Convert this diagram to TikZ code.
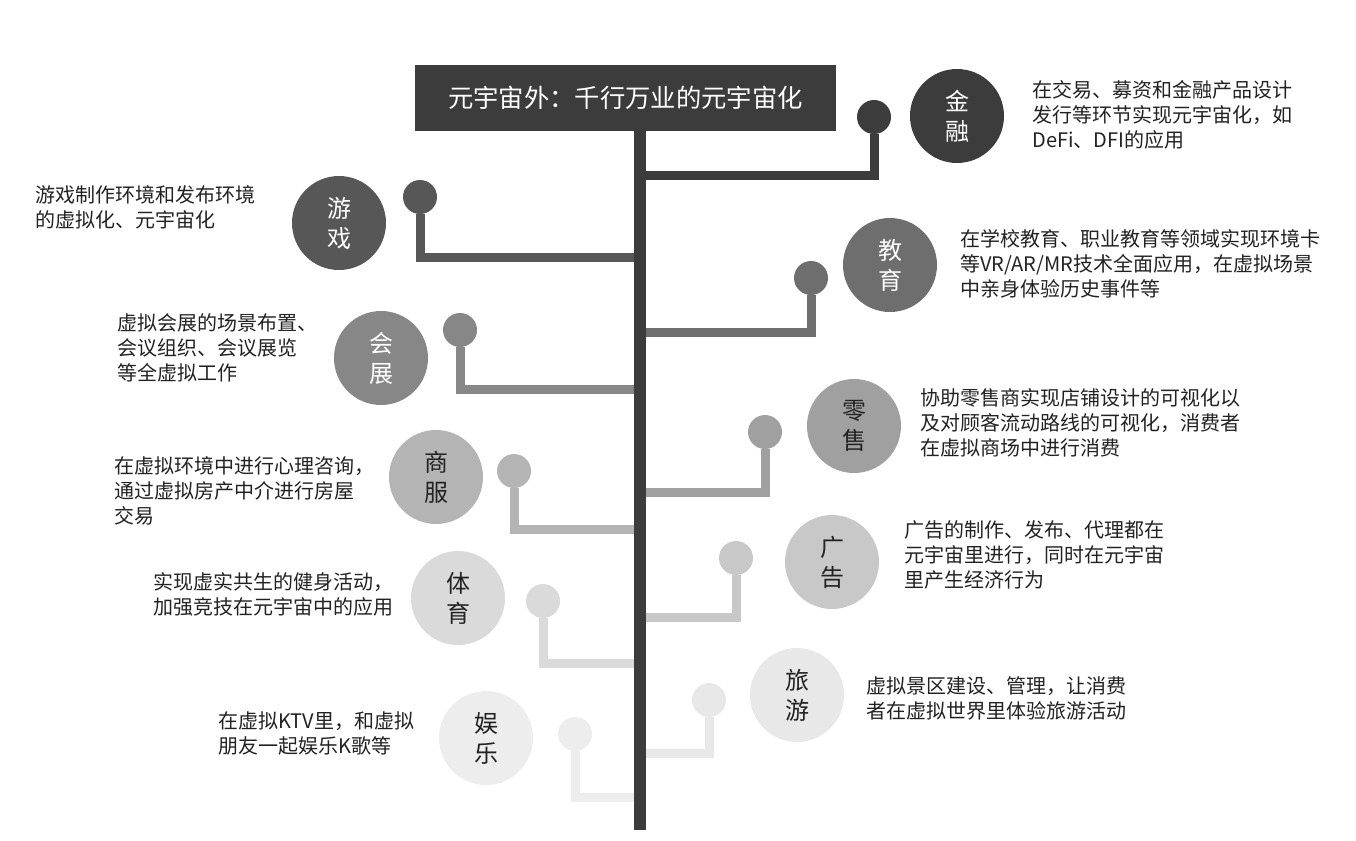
\documentclass[tikz,border=0pt]{standalone}
\usepackage{fontspec}
\setmainfont{Noto Sans CJK SC}
\usepackage{tikz}
\usetikzlibrary{positioning}
\definecolor{shjr}{HTML}{3C3C3C}
\definecolor{shyx}{HTML}{575757}
\definecolor{shjy}{HTML}{6E6E6E}
\definecolor{shhz}{HTML}{878787}
\definecolor{shls}{HTML}{A0A0A0}
\definecolor{shsf}{HTML}{B4B4B4}
\definecolor{shgg}{HTML}{C8C8C8}
\definecolor{shty}{HTML}{DADADA}
\definecolor{shly}{HTML}{E8E8E8}
\definecolor{shyl}{HTML}{EDEDED}
\definecolor{inktext}{HTML}{222222}

\begin{document}
\begin{tikzpicture}[x=0.75pt, y=-0.75pt,
  hub/.style={circle, minimum size=70.5pt, inner sep=0pt, align=center, font=\fontsize{18}{22.5}\selectfont},
  knob/.style={circle, minimum size=25.5pt, inner sep=0pt},
  branch/.style={line width=6.75pt, line join=miter},
  desc/.style={anchor=west, align=left, inner sep=0pt, text=inktext, font=\fontsize{15}{18.75}\selectfont}
]
  \useasboundingbox (0,0) rectangle (1356,840);

  \coordinate (root) at (640,830);
  \coordinate (tJR) at (640,175);
  \coordinate (tYX) at (640,257);
  \coordinate (tJY) at (640,332);
  \coordinate (tHZ) at (640,389);
  \coordinate (tLS) at (640,492);
  \coordinate (tSF) at (640,529);
  \coordinate (tGG) at (640,617);
  \coordinate (tTY) at (640,663);
  \coordinate (tLY) at (640,753);
  \coordinate (tYL) at (640,797);

  \node[knob, fill=shjr] (kJR) at (874,117) {};
  \node[knob, fill=shyx] (kYX) at (420,197) {};
  \node[knob, fill=shjy] (kJY) at (811,278) {};
  \node[knob, fill=shhz] (kHZ) at (460,330) {};
  \node[knob, fill=shls] (kLS) at (765,432) {};
  \node[knob, fill=shsf] (kSF) at (514,471) {};
  \node[knob, fill=shgg] (kGG) at (736,558) {};
  \node[knob, fill=shty] (kTY) at (543,601) {};
  \node[knob, fill=shly] (kLY) at (709,700) {};
  \node[knob, fill=shyl] (kYL) at (575,734) {};

  \draw[branch, shjr] (tJR) -| (kJR);
  \draw[branch, shyx] (tYX) -| (kYX);
  \draw[branch, shjy] (tJY) -| (kJY);
  \draw[branch, shhz] (tHZ) -| (kHZ);
  \draw[branch, shls] (tLS) -| (kLS);
  \draw[branch, shsf] (tSF) -| (kSF);
  \draw[branch, shgg] (tGG) -| (kGG);
  \draw[branch, shty] (tTY) -| (kTY);
  \draw[branch, shly] (tLY) -| (kLY);
  \draw[branch, shyl] (tYL) -| (kYL);

  \node[fill=shjr, text=white, minimum width=315.75pt, minimum height=49.5pt, inner sep=0pt,
    font=\fontsize{19}{23}\selectfont] (title) at (625.5,98) {元宇宙外：千行万业的元宇宙化};
  \draw[line width=9pt, shjr] (title.south -| root) -- (root);

  \node[hub, fill=shjr, text=white] (jr) at (957,116) {金\\融};
  \node[hub, fill=shyx, text=white] (yx) at (339,223) {游\\戏};
  \node[hub, fill=shjy, text=white] (jy) at (890,265) {教\\育};
  \node[hub, fill=shhz, text=white] (hz) at (381,358) {会\\展};
  \node[hub, fill=shls, text=inktext] (ls) at (854,426) {零\\售};
  \node[hub, fill=shsf, text=inktext] (sf) at (436,477) {商\\服};
  \node[hub, fill=shgg, text=inktext] (gg) at (832,562) {广\\告};
  \node[hub, fill=shty, text=inktext] (ty) at (458,598) {体\\育};
  \node[hub, fill=shly, text=inktext] (ly) at (797,695) {旅\\游};
  \node[hub, fill=shyl, text=inktext] (yl) at (486,738) {娱\\乐};

  \node[desc] (jrtext) at (1032,115) {在交易、募资和金融产品设计\\发行等环节实现元宇宙化，如\\DeFi、DFI的应用};
  \node[desc] (yxtext) at (35,207) {游戏制作环境和发布环境\\的虚拟化、元宇宙化};
  \node[desc] (jytext) at (960,264) {在学校教育、职业教育等领域实现环境卡\\等VR/AR/MR技术全面应用，在虚拟场景\\中亲身体验历史事件等};
  \node[desc] (hztext) at (117,348) {虚拟会展的场景布置、\\会议组织、会议展览\\等全虚拟工作};
  \node[desc] (lstext) at (920,423) {协助零售商实现店铺设计的可视化以\\及对顾客流动路线的可视化，消费者\\在虚拟商场中进行消费};
  \node[desc] (sftext) at (114,491) {在虚拟环境中进行心理咨询，\\通过虚拟房产中介进行房屋\\交易};
  \node[desc] (ggtext) at (904,555) {广告的制作、发布、代理都在\\元宇宙里进行，同时在元宇宙\\里产生经济行为};
  \node[desc] (tytext) at (153,594) {实现虚实共生的健身活动，\\加强竞技在元宇宙中的应用};
  \node[desc] (lytext) at (866,698) {虚拟景区建设、管理，让消费\\者在虚拟世界里体验旅游活动};
  \node[desc] (yltext) at (218,733) {在虚拟KTV里，和虚拟\\朋友一起娱乐K歌等};
\end{tikzpicture}
\end{document}
